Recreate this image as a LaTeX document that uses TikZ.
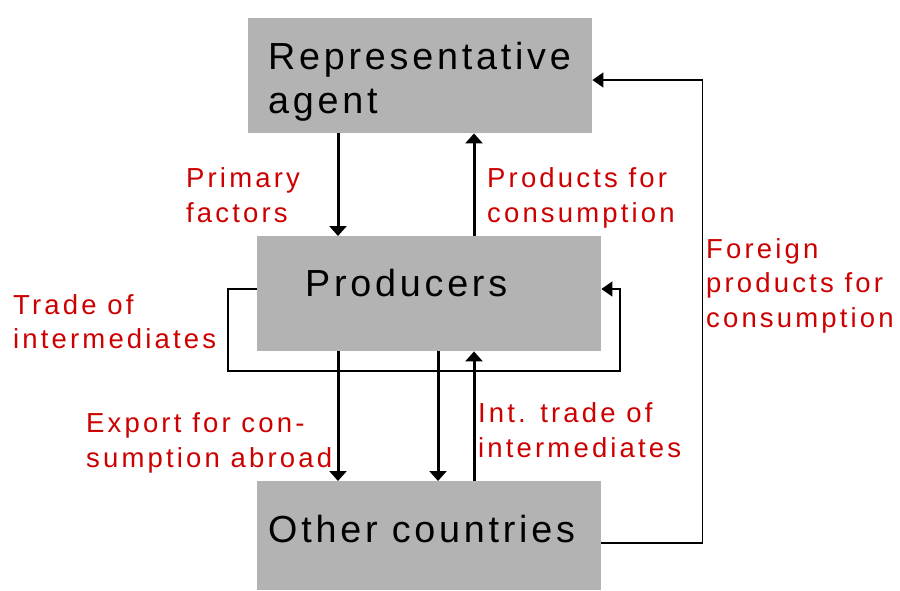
\documentclass[tikz,border=0pt]{standalone}
\usepackage{fontspec}
\setmainfont{Liberation Sans}
\newfontfamily\boxfont[LetterSpace=10]{Liberation Sans}
\newfontfamily\flowfont[LetterSpace=11.5]{Liberation Sans}
\usetikzlibrary{arrows.meta}
\definecolor{boxgray}{RGB}{179,179,179}
\definecolor{flowred}{RGB}{204,0,0}
\begin{document}
\begin{tikzpicture}[x=1pt,y=-1pt,
  sector/.style={fill=boxgray,draw=none,minimum width=344pt,minimum height=115pt,inner sep=0pt,anchor=north west},
  sectorname/.style={font=\boxfont\fontsize{37.7}{44}\selectfont,inner sep=0pt,anchor=base west,align=left},
  flowlabel/.style={text=flowred,font=\flowfont\fontsize{27.5}{34.5}\selectfont,inner sep=0pt,anchor=base west,align=left},
  flow/.style={line width=3pt,-{Triangle[width=17pt,length=10pt]}},
  thinflow/.style={line width=1.3pt,-{Triangle[width=15pt,length=11pt]}}]
\useasboundingbox (0,0) rectangle (900,590);

% boxes
\node[sector] (agent) at (248,18) {};
\node[sector] (producers) at (257,236) {};
\node[sector,minimum height=109pt] (others) at (257,481) {};

% base anchor sits on the last line
\node[sectorname] (agentname) at (268,113) {Representative\\agent};
\node[sectorname] (producersname) at (305,296) {Producers};
\node[sectorname] (othersname) at (268,542) {Other countries};

% flows between agent and producers
\draw[flow] ([xshift=90pt]agent.south west) -- ([xshift=81pt]producers.north west);
\draw[flow] ([xshift=217pt]producers.north west) -- ([xshift=226pt]agent.south west);

% flows between producers and other countries
\draw[flow] ([xshift=81pt]producers.south west) -- ([xshift=81pt]others.north west);
\draw[flow] ([xshift=181pt]producers.south west) -- ([xshift=181pt]others.north west);
\draw[flow] ([xshift=217pt]others.north west) -- ([xshift=217pt]producers.south west);

% loops
\draw[thinflow] ([yshift=-53pt]producers.north west) -- ++(-29,0) |- (620,371) |- ([yshift=-53pt]producers.north east);
\draw[thinflow] ([yshift=-62pt]others.north east) -| ([xshift=110pt,yshift=-62pt]agent.north east) -- ([yshift=-62pt]agent.north east);

% labels
\node[flowlabel] (factorslabel) at (186,222) {Primary\\factors};
\node[flowlabel] (consumptionlabel) at (487,222) {Products for\\consumption};
\node[flowlabel] (foreignlabel) at (706,327) {Foreign\\products for\\consumption};
\node[flowlabel] (intermlabel) at (13,348.5) {Trade of\\intermediates};
\node[flowlabel] (exportlabel) at (86,467) {Export for con-\\sumption abroad};
\node[flowlabel] (inttradelabel) at (478,457) {Int. trade of\\intermediates};
\end{tikzpicture}
\end{document}
